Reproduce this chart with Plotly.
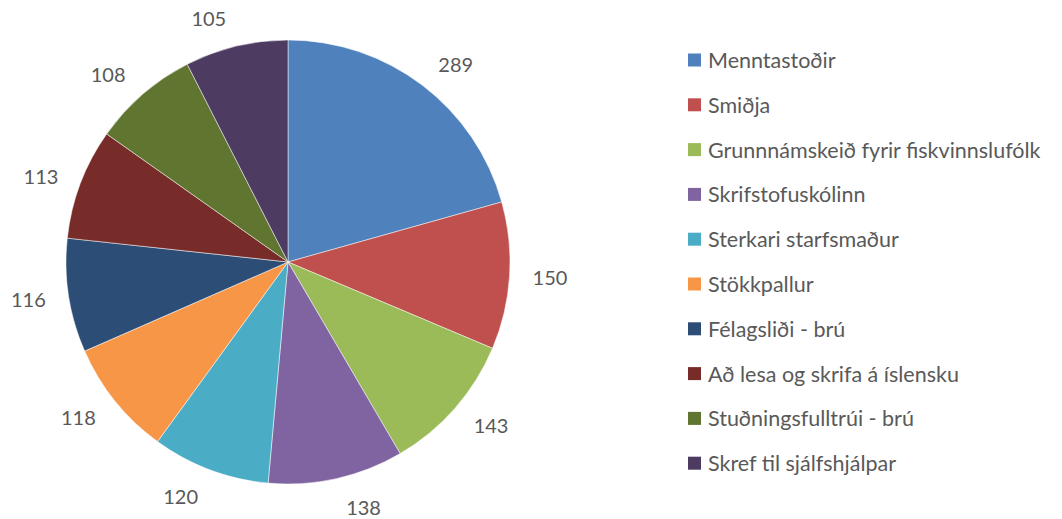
import plotly.graph_objects as go

categories = ["Menntastoðir", "Smiðja", "Grunnnámskeið fyrir fiskvinnslufólk",
              "Skrifstofuskólinn", "Sterkari starfsmaður", "Stökkpallur",
              "Félagsliði - brú", "Að lesa og skrifa á íslensku",
              "Stuðningsfulltrúi - brú", "Skref til sjálfshjálpar"]
values = [289, 150, 143, 138, 120, 118, 116, 113, 108, 105]
colors = ["#4F81BD", "#C0504D", "#9BBB59", "#8064A2", "#4BACC6",
          "#F79646", "#2C4D75", "#772C2A", "#5F7530", "#4D3B62"]

W, H = 1062, 519
cx, cy, R = 288, 262, 222
font_family = "Lato, 'Open Sans', sans-serif"
text_color = "#595959"

def dom(r):
    return dict(x=[(cx - r) / W, (cx + r) / W], y=[(H - cy - r) / H, (H - cy + r) / H])

fig = go.Figure()
# transparent larger pie carrying the outside value labels
fig.add_trace(go.Pie(labels=categories, values=values, sort=False, direction="clockwise",
                     rotation=0, domain=dom(R + 17), textinfo="value", textposition="outside",
                     marker=dict(colors=["rgba(0,0,0,0)"] * len(values), line=dict(width=0)),
                     textfont=dict(family=font_family, size=20, color=text_color),
                     showlegend=False, hoverinfo="skip", automargin=False))
fig.add_trace(go.Pie(labels=categories, values=values, sort=False, direction="clockwise",
                     rotation=0, domain=dom(R), textinfo="none",
                     marker=dict(colors=colors, line=dict(color="white", width=0.5)),
                     showlegend=False, automargin=False))

# legend drawn as shapes + annotations
lx, ly0, dy = 688, 60, 44.8
for i, (lab, col) in enumerate(zip(categories, colors)):
    yc = ly0 + i * dy
    fig.add_shape(type="rect", xref="paper", yref="paper",
                  x0=lx / W, x1=(lx + 13) / W, y0=(H - yc - 6.5) / H, y1=(H - yc + 6.5) / H,
                  fillcolor=col, line=dict(width=0))
    fig.add_annotation(x=(lx + 18) / W, y=(H - yc) / H, xref="paper", yref="paper",
                       text=lab, showarrow=False, xanchor="left", yanchor="middle",
                       font=dict(family=font_family, size=21.5, color=text_color))

fig.update_layout(width=W, height=H, margin=dict(l=0, r=0, t=0, b=0),
                  paper_bgcolor="white", plot_bgcolor="white", showlegend=False)
fig.write_html("out.html", config={"displayModeBar": False},
               post_script="document.body.style.margin='0';")
